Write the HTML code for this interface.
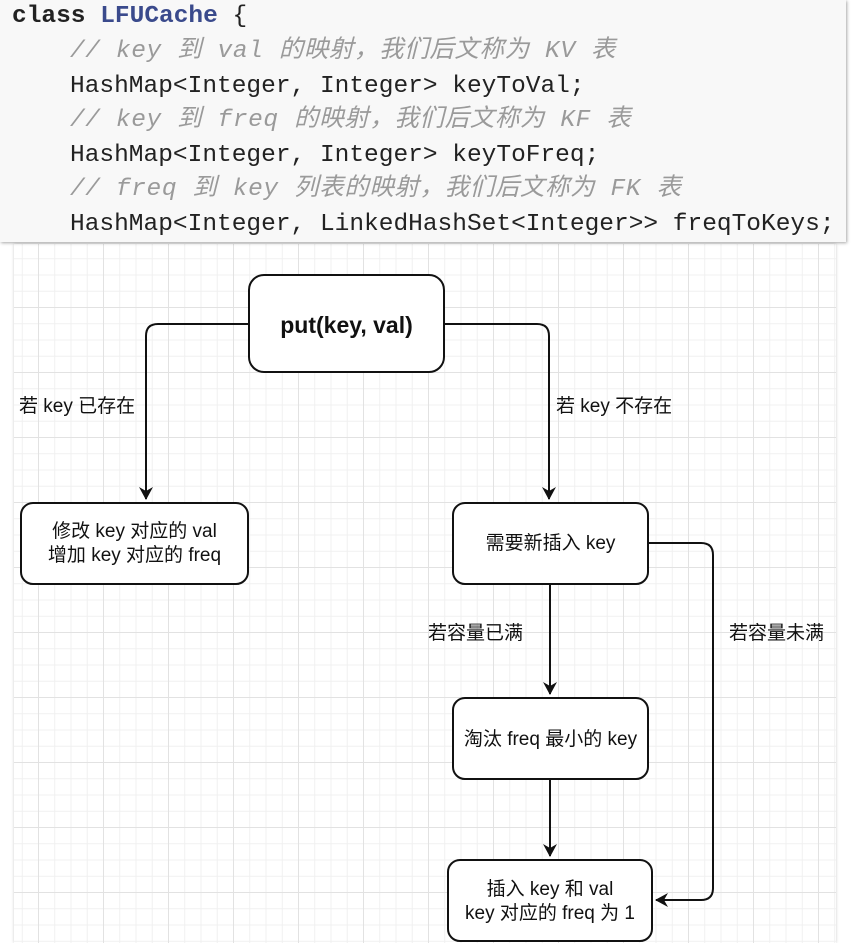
<!DOCTYPE html>
<html><head><meta charset="utf-8"><style>
body{margin:0;width:852px;height:943px;background:#fff;position:relative;overflow:hidden;font-family:"Liberation Sans","Noto Sans CJK SC",sans-serif}
#code{position:absolute;left:0;top:0;width:846px;height:242px;background:#f8f8f8;box-shadow:1px 1px 3px rgba(0,0,0,.35);z-index:2}
.l{position:absolute;left:0;white-space:pre;font-family:"Liberation Mono","Noto Sans CJK SC",monospace;font-size:24.5px;color:#222;line-height:30px}
.c{color:#9a9a9a;font-style:italic;letter-spacing:0.6px}
#grid{position:absolute;left:14px;top:244px;width:822px;height:699px;
background-color:#fff;
background-image:linear-gradient(#e2e2e2 1px,transparent 1px),linear-gradient(90deg,#e2e2e2 1px,transparent 1px),linear-gradient(#f0f0f0 1px,transparent 1px),linear-gradient(90deg,#f0f0f0 1px,transparent 1px);
background-size:65px 65px,65px 65px,16.25px 16.25px,16.25px 16.25px;
background-position:0 63px,24px 0,0 63px,24px 0;box-shadow:0 0 3px rgba(0,0,0,.2)}
.t{position:absolute;font-size:19px;color:#111;white-space:nowrap;line-height:24px}
</style></head><body>
<div id="code">
<div class="l" style="left:12px;top:2px;font-weight:bold">class <span style="color:#3a4a8c">LFUCache</span> <span style="font-weight:normal">{</span></div>
<div class="l c" style="left:70px;top:37px">// key 到 val 的映射，我们后文称为 KV 表</div>
<div class="l" style="left:70px;top:72px">HashMap&lt;Integer, Integer&gt; keyToVal;</div>
<div class="l c" style="left:70px;top:106px">// key 到 freq 的映射，我们后文称为 KF 表</div>
<div class="l" style="left:70px;top:141px">HashMap&lt;Integer, Integer&gt; keyToFreq;</div>
<div class="l c" style="left:70px;top:175px">// freq 到 key 列表的映射，我们后文称为 FK 表</div>
<div class="l" style="left:70px;top:210px">HashMap&lt;Integer, LinkedHashSet&lt;Integer&gt;&gt; freqToKeys;</div>
</div>
<div id="grid"></div>
<svg width="852" height="943" style="position:absolute;left:0;top:0" xmlns="http://www.w3.org/2000/svg">
<defs><marker id="a" markerWidth="14" markerHeight="14" refX="12" refY="7" orient="auto" markerUnits="userSpaceOnUse"><path d="M0,0 L13,7 L0,14 L4,7 Z" fill="#111"/></marker></defs>
<g fill="#fff" stroke="#111" stroke-width="2">
<rect x="249" y="275" width="195" height="97" rx="15"/>
<rect x="21" y="503" width="227" height="81" rx="12"/>
<rect x="453" y="503" width="195" height="81" rx="12"/>
<rect x="453" y="698" width="195" height="81" rx="12"/>
<rect x="448" y="860" width="204" height="81" rx="12"/>
</g>
<g fill="none" stroke="#111" stroke-width="2">
<path d="M249,324 H158 Q146,324 146,336 V499" marker-end="url(#a)"/>
<path d="M444,324 H537 Q549,324 549,336 V499" marker-end="url(#a)"/>
<path d="M550,584 V694" marker-end="url(#a)"/>
<path d="M550,779 V856" marker-end="url(#a)"/>
<path d="M648,543 H701 Q713,543 713,555 V888 Q713,900 701,900 H656" marker-end="url(#a)"/>
</g>
</svg>
<div class="t" style="left:249px;top:311px;width:195px;text-align:center;font-weight:bold;font-size:23px;line-height:28px">put(key, val)</div>
<div class="t" style="left:19px;top:395px">若 key 已存在</div>
<div class="t" style="left:556px;top:395px">若 key 不存在</div>
<div class="t" style="left:21px;top:520px;width:227px;text-align:center">修改 key 对应的 val<br>增加 key 对应的 freq</div>
<div class="t" style="left:453px;top:532px;width:195px;text-align:center">需要新插入 key</div>
<div class="t" style="left:428px;top:622px">若容量已满</div>
<div class="t" style="left:729px;top:622px">若容量未满</div>
<div class="t" style="left:453px;top:728px;width:195px;text-align:center">淘汰 freq 最小的 key</div>
<div class="t" style="left:448px;top:878px;width:204px;text-align:center">插入 key 和 val<br>key 对应的 freq 为 1</div>
</body></html>
